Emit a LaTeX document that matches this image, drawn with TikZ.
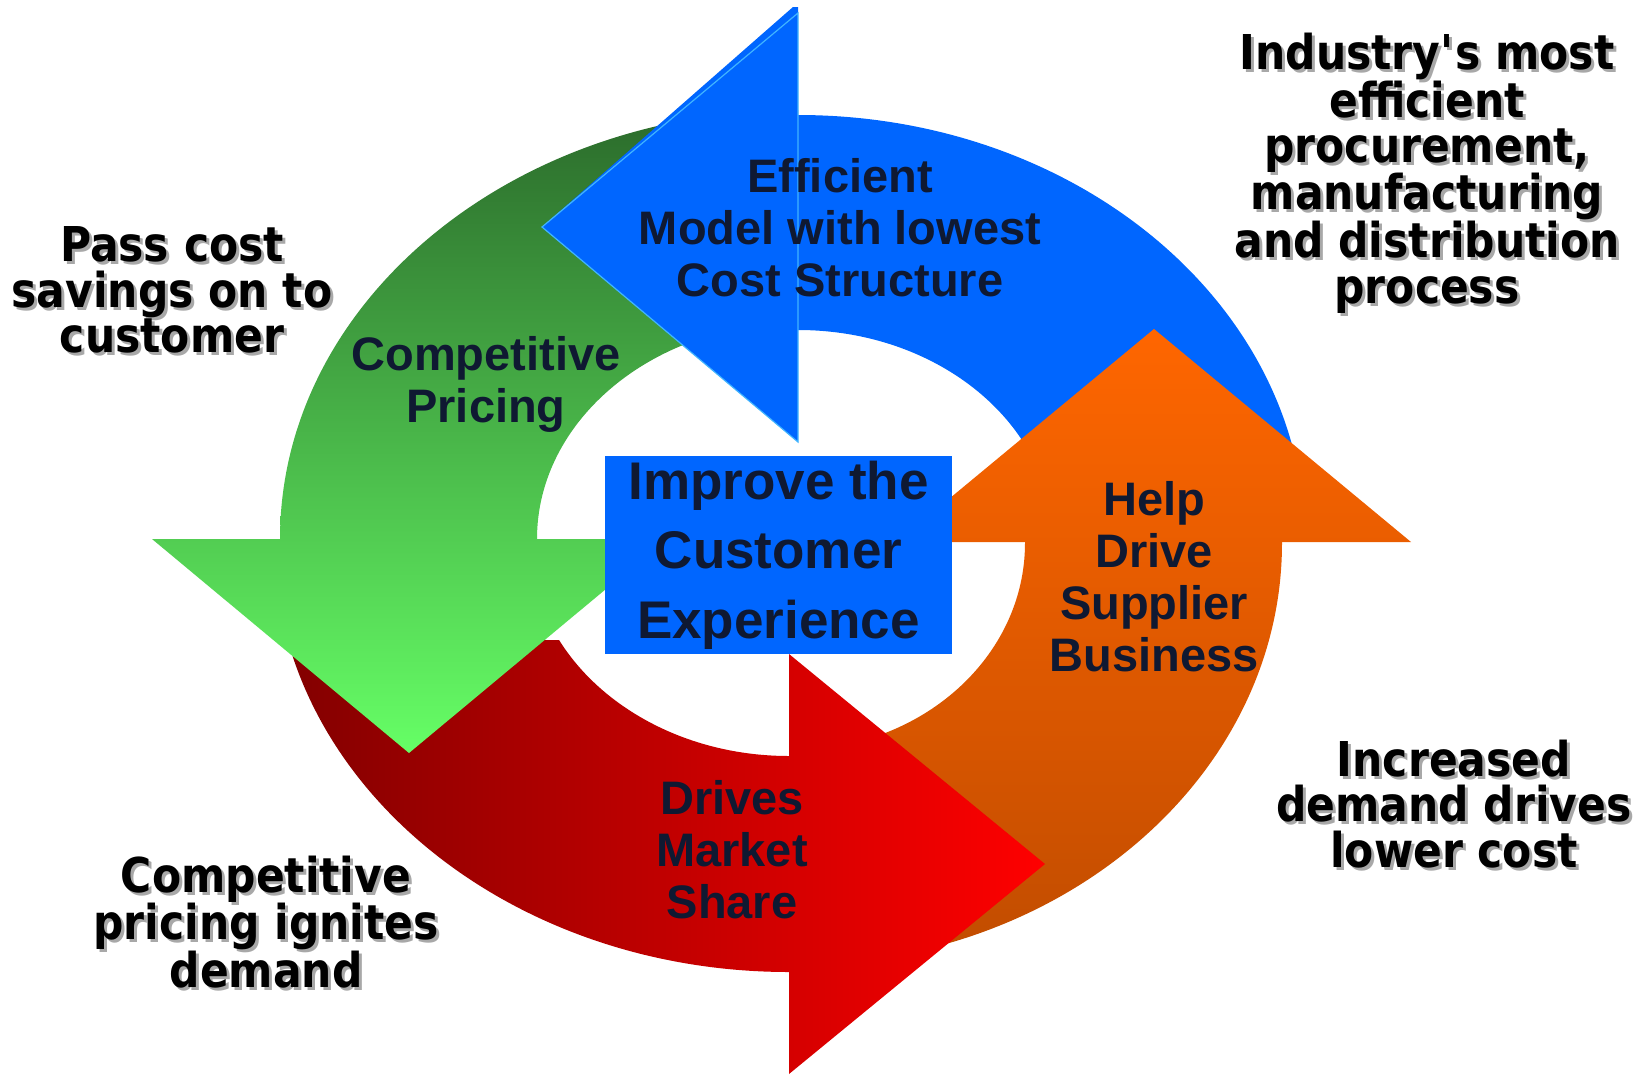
\documentclass[tikz,border=0pt]{standalone}
\usepackage{fontspec}
\setmainfont{Liberation Sans}
\newfontfamily\notefont[FakeStretch=0.885]{DejaVu Sans}

\definecolor{navy}{HTML}{0F1932}
\definecolor{hubblue}{HTML}{0066FF}
\definecolor{rimblue}{HTML}{40B4FF}
\definecolor{greentop}{HTML}{2B6A2B}
\definecolor{greenbot}{HTML}{66FF66}
\definecolor{redleft}{HTML}{800000}
\definecolor{redright}{HTML}{FF0000}
\definecolor{orangetop}{HTML}{FF6600}
\definecolor{orangebot}{HTML}{C04C00}
\definecolor{shadowgray}{HTML}{A8A8A8}

% one caption line with its grey drop shadow (shadow takes no space)
\newcommand\shline[1]{\leavevmode\rlap{\smash{\kern3pt\raisebox{-3pt}{\textcolor{shadowgray}{#1}}}}#1}

\begin{document}
\begin{tikzpicture}[x=1pt,y=1pt,
  inarrow/.style={font=\fontsize{47}{52}\selectfont\bfseries, text=navy, align=center, inner sep=0pt},
  hubbox/.style={fill=hubblue, minimum width=347pt, minimum height=198pt, inner sep=0pt,
                 font=\fontsize{53}{69.5}\selectfont\bfseries, text=navy, align=center},
  note/.style={font=\notefont\fontsize{48}{45.5}\selectfont\bfseries, text=black, align=center, inner sep=0pt},
  greenfill/.style={path picture={\shade[top color=greentop,bottom color=greenbot] (140,-108) rectangle (810,-755);}},
  redfill/.style={path picture={\shade[left color=redleft,right color=redright] (272,-640) rectangle (1047,-1080);}},
  orangefill/.style={path picture={\shade[top color=orangetop,bottom color=orangebot] (780,-327) rectangle (1415,-970);}},
]
\useasboundingbox (0,0) rectangle (1652,-1074);

% ---- ring segments (bands) ----
% green: top to left
\path[greenfill] (798,-110)
  arc[start angle=90,end angle=180,x radius=518pt,y radius=429pt]
  -- ++(0,-3) -- (537,-542) -- (537,-539)
  arc[start angle=180,end angle=90,x radius=261pt,y radius=216pt] -- cycle;
% blue: right to top
\fill[hubblue] (1305,-541)
  arc[start angle=0,end angle=90,x radius=507pt,y radius=426pt]
  -- ++(-3,0) -- (795,-330) -- (798,-330)
  arc[start angle=90,end angle=0,x radius=255pt,y radius=211pt] -- cycle;
% orange: bottom to right
\path[orangefill] (793,-965)
  arc[start angle=270,end angle=360,x radius=489pt,y radius=422pt]
  -- ++(0,3) -- (1025,-540) -- (1025,-543)
  arc[start angle=360,end angle=270,x radius=232pt,y radius=207pt] -- cycle;
% red: left to bottom
\path[redfill] (274,-541)
  arc[start angle=180,end angle=270,x radius=515pt,y radius=431pt]
  -- ++(3,0) -- (792,-756) -- (789,-756)
  arc[start angle=270,end angle=180,x radius=259pt,y radius=215pt] -- cycle;

% ---- arrow heads ----
\path[greenfill] (152,-539) -- (666,-539) -- (409,-753) -- cycle;
\fill[hubblue] (542,-227) -- (793,-7) -- (798,-7) -- (798,-13) -- cycle;
\fill[hubblue, draw=rimblue, line width=1.2pt, line join=miter] (798,-13) -- (798,-442) -- (542,-227) -- cycle;
\path[orangefill] (897,-542) -- (1411,-542) -- (1154,-329) -- cycle;
\path[redfill] (789,-654) -- (789,-1074) -- (1045,-864) -- cycle;

% ---- centre box ----
\node[hubbox] (hub) at (778.5,-555) {Improve the\\Customer\\Experience};

% ---- texts inside the arrows ----
\node[inarrow] (efficient) at (840,-228) {Efficient\\Model with lowest\\Cost Structure};
\node[inarrow] (pricing) at (486,-384) {Competitive\\Pricing};
\node[inarrow] (supplier) at (1154,-577) {Help\\Drive\\Supplier\\Business};
\node[inarrow] (market) at (732,-850) {Drives\\Market\\Share};

% ---- outer captions ----
\node[note] (industry) at (1427,-173) {\shline{Industry\textquotesingle s most}\\\shline{efficient}\\\shline{procurement,}\\\shline{manufacturing}\\\shline{and distribution}\\\shline{process}};
\node[note] (savings) at (172,-290) {\shline{Pass cost}\\\shline{savings on to}\\\shline{customer}};
\node[note] (ignites) at (266,-922) {\shline{Competitive}\\\shline{pricing ignites}\\\shline{demand}};
\node[note] (demand) at (1454,-804) {\shline{Increased}\\\shline{demand drives}\\\shline{lower cost}};
\end{tikzpicture}
\end{document}
